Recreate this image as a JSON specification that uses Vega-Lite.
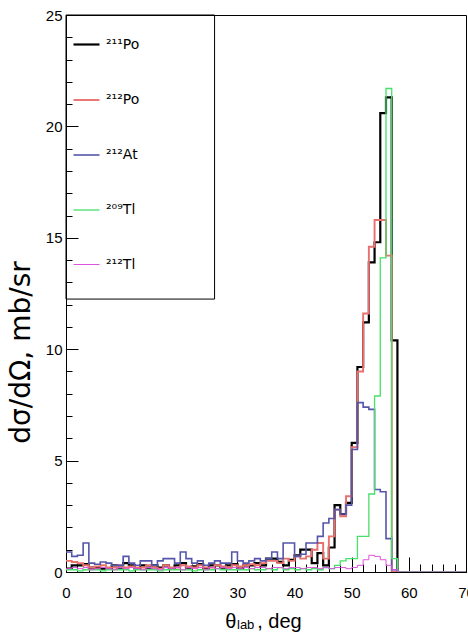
{
  "$schema": "https://vega.github.io/schema/vega-lite/v6.json",
  "width": 400,
  "height": 557,
  "autosize": {"type": "none"},
  "padding": {"left": 66, "top": 15, "right": 2, "bottom": 68},
  "background": "white",
  "config": {
    "font": "Liberation Sans",
    "view": {"stroke": "black", "strokeWidth": 1},
    "axis": {"domainColor": "black", "tickColor": "black", "labelColor": "black", "titleColor": "black", "grid": false, "labelFont": "Liberation Sans", "titleFont": "Liberation Sans", "titleFontWeight": "normal", "labelOverlap": false}
  },
  "title": {"text": "lab", "orient": "bottom", "anchor": "start", "frame": "group", "fontSize": 13, "fontWeight": "normal", "font": "Liberation Sans", "color": "black", "dx": 171, "dy": -12, "offset": 0},
  "datasets": {
    "hist": [
      {"t": 0, "Po211": 0.15, "Po212": 0.5, "At212": 0.9, "Tl209": 0.1, "Tl212": 0.15},
      {"t": 1, "Po211": 0.3, "Po212": 0.45, "At212": 0.7, "Tl209": 0.1, "Tl212": 0.2},
      {"t": 2, "Po211": 0.3, "Po212": 0.4, "At212": 0.75, "Tl209": 0.05, "Tl212": 0.15},
      {"t": 3, "Po211": 0.35, "Po212": 0.3, "At212": 1.3, "Tl209": 0.1, "Tl212": 0.2},
      {"t": 4, "Po211": 0.2, "Po212": 0.2, "At212": 0.4, "Tl209": 0.1, "Tl212": 0.1},
      {"t": 5, "Po211": 0.2, "Po212": 0.25, "At212": 0.35, "Tl209": 0.1, "Tl212": 0.15},
      {"t": 6, "Po211": 0.15, "Po212": 0.3, "At212": 0.45, "Tl209": 0.05, "Tl212": 0.2},
      {"t": 7, "Po211": 0.15, "Po212": 0.2, "At212": 0.4, "Tl209": 0.1, "Tl212": 0.15},
      {"t": 8, "Po211": 0.3, "Po212": 0.2, "At212": 0.3, "Tl209": 0.1, "Tl212": 0.1},
      {"t": 9, "Po211": 0.2, "Po212": 0.3, "At212": 0.3, "Tl209": 0.1, "Tl212": 0.2},
      {"t": 10, "Po211": 0.4, "Po212": 0.2, "At212": 0.7, "Tl209": 0.1, "Tl212": 0.15},
      {"t": 11, "Po211": 0.3, "Po212": 0.25, "At212": 0.4, "Tl209": 0.05, "Tl212": 0.2},
      {"t": 12, "Po211": 0.15, "Po212": 0.2, "At212": 0.3, "Tl209": 0.1, "Tl212": 0.15},
      {"t": 13, "Po211": 0.3, "Po212": 0.2, "At212": 0.5, "Tl209": 0.1, "Tl212": 0.1},
      {"t": 14, "Po211": 0.2, "Po212": 0.3, "At212": 0.5, "Tl209": 0.1, "Tl212": 0.2},
      {"t": 15, "Po211": 0.3, "Po212": 0.2, "At212": 0.3, "Tl209": 0.1, "Tl212": 0.15},
      {"t": 16, "Po211": 0.2, "Po212": 0.15, "At212": 0.5, "Tl209": 0.05, "Tl212": 0.1},
      {"t": 17, "Po211": 0.3, "Po212": 0.3, "At212": 0.6, "Tl209": 0.1, "Tl212": 0.2},
      {"t": 18, "Po211": 0.15, "Po212": 0.2, "At212": 0.6, "Tl209": 0.1, "Tl212": 0.15},
      {"t": 19, "Po211": 0.3, "Po212": 0.2, "At212": 0.4, "Tl209": 0.1, "Tl212": 0.2},
      {"t": 20, "Po211": 0.4, "Po212": 0.3, "At212": 0.9, "Tl209": 0.1, "Tl212": 0.1},
      {"t": 21, "Po211": 0.2, "Po212": 0.25, "At212": 0.6, "Tl209": 0.1, "Tl212": 0.2},
      {"t": 22, "Po211": 0.25, "Po212": 0.2, "At212": 0.4, "Tl209": 0.05, "Tl212": 0.15},
      {"t": 23, "Po211": 0.35, "Po212": 0.3, "At212": 0.5, "Tl209": 0.1, "Tl212": 0.2},
      {"t": 24, "Po211": 0.15, "Po212": 0.2, "At212": 0.3, "Tl209": 0.1, "Tl212": 0.1},
      {"t": 25, "Po211": 0.3, "Po212": 0.2, "At212": 0.4, "Tl209": 0.1, "Tl212": 0.2},
      {"t": 26, "Po211": 0.3, "Po212": 0.3, "At212": 0.5, "Tl209": 0.15, "Tl212": 0.15},
      {"t": 27, "Po211": 0.2, "Po212": 0.25, "At212": 0.4, "Tl209": 0.1, "Tl212": 0.2},
      {"t": 28, "Po211": 0.3, "Po212": 0.2, "At212": 0.4, "Tl209": 0.1, "Tl212": 0.15},
      {"t": 29, "Po211": 0.35, "Po212": 0.3, "At212": 0.9, "Tl209": 0.1, "Tl212": 0.2},
      {"t": 30, "Po211": 0.15, "Po212": 0.25, "At212": 0.5, "Tl209": 0.1, "Tl212": 0.15},
      {"t": 31, "Po211": 0.3, "Po212": 0.3, "At212": 0.4, "Tl209": 0.1, "Tl212": 0.2},
      {"t": 32, "Po211": 0.3, "Po212": 0.35, "At212": 0.5, "Tl209": 0.15, "Tl212": 0.15},
      {"t": 33, "Po211": 0.4, "Po212": 0.3, "At212": 0.6, "Tl209": 0.1, "Tl212": 0.2},
      {"t": 34, "Po211": 0.3, "Po212": 0.4, "At212": 0.5, "Tl209": 0.1, "Tl212": 0.2},
      {"t": 35, "Po211": 0.6, "Po212": 0.5, "At212": 0.6, "Tl209": 0.15, "Tl212": 0.15},
      {"t": 36, "Po211": 0.6, "Po212": 0.5, "At212": 0.9, "Tl209": 0.1, "Tl212": 0.2},
      {"t": 37, "Po211": 0.45, "Po212": 0.4, "At212": 0.6, "Tl209": 0.2, "Tl212": 0.2},
      {"t": 38, "Po211": 0.3, "Po212": 0.6, "At212": 1.3, "Tl209": 0.1, "Tl212": 0.15},
      {"t": 39, "Po211": 0.55, "Po212": 0.5, "At212": 1.3, "Tl209": 0.15, "Tl212": 0.2},
      {"t": 40, "Po211": 0.75, "Po212": 0.7, "At212": 0.7, "Tl209": 0.1, "Tl212": 0.2},
      {"t": 41, "Po211": 1.0, "Po212": 0.6, "At212": 0.8, "Tl209": 0.15, "Tl212": 0.15},
      {"t": 42, "Po211": 1.0, "Po212": 0.7, "At212": 1.3, "Tl209": 0.1, "Tl212": 0.2},
      {"t": 43, "Po211": 0.4, "Po212": 1.0, "At212": 1.3, "Tl209": 0.15, "Tl212": 0.2},
      {"t": 44, "Po211": 0.85, "Po212": 1.3, "At212": 1.6, "Tl209": 0.1, "Tl212": 0.15},
      {"t": 45, "Po211": 0.3, "Po212": 0.6, "At212": 2.2, "Tl209": 0.2, "Tl212": 0.2},
      {"t": 46, "Po211": 1.1, "Po212": 1.6, "At212": 2.4, "Tl209": 0.15, "Tl212": 0.15},
      {"t": 47, "Po211": 3.0, "Po212": 2.8, "At212": 2.8, "Tl209": 0.3, "Tl212": 0.2},
      {"t": 48, "Po211": 2.6, "Po212": 2.5, "At212": 2.6, "Tl209": 0.5, "Tl212": 0.2},
      {"t": 49, "Po211": 3.1, "Po212": 3.4, "At212": 3.0, "Tl209": 0.6, "Tl212": 0.15},
      {"t": 50, "Po211": 5.8, "Po212": 5.6, "At212": 5.5, "Tl209": 0.6, "Tl212": 0.2},
      {"t": 51, "Po211": 9.2, "Po212": 9.0, "At212": 7.6, "Tl209": 1.6, "Tl212": 0.3},
      {"t": 52, "Po211": 11.2, "Po212": 11.6, "At212": 7.4, "Tl209": 1.6, "Tl212": 0.55},
      {"t": 53, "Po211": 13.9, "Po212": 14.6, "At212": 7.3, "Tl209": 3.5, "Tl212": 0.75},
      {"t": 54, "Po211": 14.8, "Po212": 15.8, "At212": 3.7, "Tl209": 7.9, "Tl212": 0.7},
      {"t": 55, "Po211": 20.6, "Po212": 15.8, "At212": 3.6, "Tl209": 14.1, "Tl212": 0.55},
      {"t": 56, "Po211": 21.3, "Po212": 14.2, "At212": 1.5, "Tl209": 21.7, "Tl212": 0.3},
      {"t": 57, "Po211": 10.4, "Po212": 0, "At212": 0.1, "Tl209": 0.6, "Tl212": 0.1},
      {"t": 58, "Po211": 0, "Po212": 0, "At212": 0, "Tl209": 0, "Tl212": 0},
      {"t": 59, "Po211": 0, "Po212": 0, "At212": 0, "Tl209": 0, "Tl212": 0},
      {"t": 60, "Po211": 0, "Po212": 0, "At212": 0, "Tl209": 0, "Tl212": 0},
      {"t": 61, "Po211": 0, "Po212": 0, "At212": 0, "Tl209": 0, "Tl212": 0},
      {"t": 62, "Po211": 0, "Po212": 0, "At212": 0, "Tl209": 0, "Tl212": 0},
      {"t": 63, "Po211": 0, "Po212": 0, "At212": 0, "Tl209": 0, "Tl212": 0},
      {"t": 64, "Po211": 0, "Po212": 0, "At212": 0, "Tl209": 0, "Tl212": 0},
      {"t": 65, "Po211": 0, "Po212": 0, "At212": 0, "Tl209": 0, "Tl212": 0},
      {"t": 66, "Po211": 0, "Po212": 0, "At212": 0, "Tl209": 0, "Tl212": 0},
      {"t": 67, "Po211": 0, "Po212": 0, "At212": 0, "Tl209": 0, "Tl212": 0},
      {"t": 68, "Po211": 0, "Po212": 0, "At212": 0, "Tl209": 0, "Tl212": 0},
      {"t": 69, "Po211": 0, "Po212": 0, "At212": 0, "Tl209": 0, "Tl212": 0},
      {"t": 70, "Po211": 0, "Po212": 0, "At212": 0, "Tl209": 0, "Tl212": 0}
    ]
  },
  "resolve": {"axis": {"x": "independent", "y": "independent"}},
  "layer": [
    {
      "data": {"name": "hist"},
      "transform": [{"fold": ["Po211", "Po212", "At212", "Tl209", "Tl212"], "as": ["series", "v"]}],
      "mark": {"type": "line", "interpolate": "step-after", "clip": true},
      "encoding": {
        "x": {
          "field": "t", "type": "quantitative",
          "scale": {"domain": [0, 70], "nice": false, "zero": false},
          "axis": {
            "orient": "bottom",
            "values": [0, 10, 20, 30, 40, 50, 60, 70],
            "tickSize": -15, "labelFontSize": 15, "labelPadding": 28, "labelFlush": false,
            "title": "θ\u00a0\u00a0\u00a0\u202f, deg", "titleFontSize": 20, "titleX": 197, "titleY": 55, "titleBaseline": "alphabetic"
          }
        },
        "y": {
          "field": "v", "type": "quantitative",
          "scale": {"domain": [0, 25], "nice": false},
          "axis": {
            "orient": "left",
            "values": [0, 5, 10, 15, 20, 25],
            "tickSize": -12, "labelFontSize": 15, "labelPadding": 16, "labelFlush": false,
            "title": "dσ/dΩ, mb/sr", "titleFont": "DejaVu Sans", "titleFontSize": 28, "titleX": -45, "titleY": 337, "titleAlign": "center", "titleBaseline": "middle", "titleAngle": 270
          }
        },
        "color": {
          "field": "series", "type": "nominal",
          "scale": {"domain": ["Po211", "Po212", "At212", "Tl209", "Tl212"], "range": ["#000000", "#e8706f", "#5555aa", "#46e06a", "#dd55dd"]},
          "legend": {
            "orient": "none", "legendX": 6, "legendY": 15, "title": null, "padding": 0,
            "symbolType": "stroke", "symbolSize": 676, "labelFontSize": 14, "labelOffset": 5, "rowPadding": 34,
            "labelFont": "DejaVu Sans", "labelColor": "black",
            "labelExpr": "{'Po211': '²¹¹Po', 'Po212': '²¹²Po', 'At212': '²¹²At', 'Tl209': '²⁰⁹Tl', 'Tl212': '²¹²Tl'}[datum.value]"
          }
        },
        "strokeWidth": {
          "field": "series", "type": "nominal",
          "scale": {"domain": ["Po211", "Po212", "At212", "Tl209", "Tl212"], "range": [2.2, 1, 1, 1, 1]},
          "legend": {
            "orient": "none", "legendX": 6, "legendY": 15, "title": null, "padding": 0,
            "symbolType": "stroke", "symbolSize": 676, "labelFontSize": 14, "labelOffset": 5, "rowPadding": 34,
            "labelFont": "DejaVu Sans", "labelColor": "black",
            "labelExpr": "{'Po211': '²¹¹Po', 'Po212': '²¹²Po', 'At212': '²¹²At', 'Tl209': '²⁰⁹Tl', 'Tl212': '²¹²Tl'}[datum.value]"
          }
        }
      }
    },
    {
      "data": {"values": [{}]},
      "mark": {"type": "rect", "fill": "transparent", "stroke": "black", "strokeWidth": 1},
      "encoding": {
        "x": {"datum": 0, "type": "quantitative", "axis": {"orient": "bottom", "values": [0,2,4,6,8,10,12,14,16,18,20,22,24,26,28,30,32,34,36,38,40,42,44,46,48,50,52,54,56,58,60,62,64,66,68,70], "labels": false, "domain": false, "tickSize": -8, "title": null}},
        "x2": {"datum": 26.0},
        "y": {"datum": 12.25, "type": "quantitative", "axis": {"orient": "left", "values": [0,1,2,3,4,5,6,7,8,9,10,11,12,13,14,15,16,17,18,19,20,21,22,23,24,25], "labels": false, "domain": false, "tickSize": -6, "title": null}},
        "y2": {"datum": 25}
      }
    }
  ]
}
